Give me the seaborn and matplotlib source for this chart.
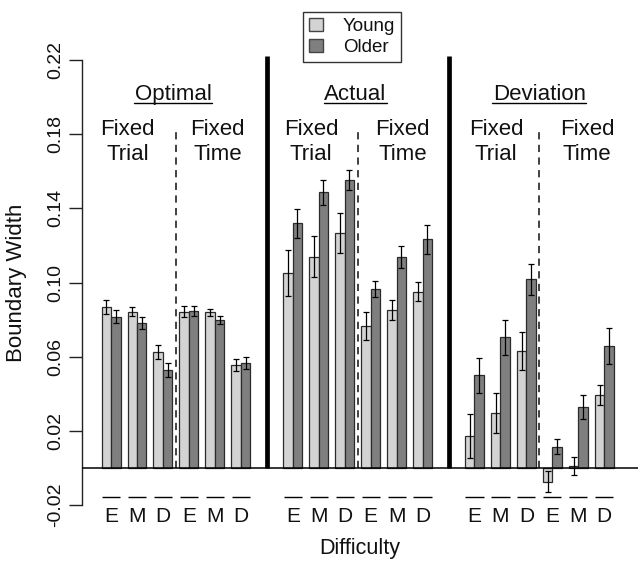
import numpy as np
import pandas as pd
import seaborn as sns
import matplotlib
matplotlib.use('Agg')
import matplotlib.pyplot as plt
from matplotlib.patches import Patch

# data: each list is Fixed Trial E, M, D then Fixed Time E, M, D
panels = ['Optimal', 'Actual', 'Deviation']
difficulty = ['E', 'M', 'D']
groups = ['Young', 'Older']

optimal_young = [0.0870, 0.0843, 0.0627, 0.0843, 0.0839, 0.0555]
optimal_older = [0.0816, 0.0780, 0.0528, 0.0848, 0.0800, 0.0568]
optimal_young_se = [0.0038, 0.0025, 0.0038, 0.0030, 0.0020, 0.0030]
optimal_older_se = [0.0035, 0.0032, 0.0038, 0.0028, 0.0022, 0.0032]

actual_young = [0.1050, 0.1140, 0.1265, 0.0766, 0.0852, 0.0950]
actual_older = [0.1320, 0.1486, 0.1550, 0.0967, 0.1136, 0.1233]
actual_young_se = [0.0124, 0.0110, 0.0108, 0.0075, 0.0054, 0.0052]
actual_older_se = [0.0078, 0.0067, 0.0054, 0.0043, 0.0060, 0.0077]

deviation_young = [0.0172, 0.0295, 0.0632, -0.0074, 0.0010, 0.0394]
deviation_older = [0.0500, 0.0704, 0.1017, 0.0115, 0.0330, 0.0658]
deviation_young_se = [0.0119, 0.0108, 0.0102, 0.0057, 0.0050, 0.0054]
deviation_older_se = [0.0093, 0.0093, 0.0083, 0.0040, 0.0066, 0.0095]

young = [optimal_young, actual_young, deviation_young]
older = [optimal_older, actual_older, deviation_older]
young_se = [optimal_young_se, actual_young_se, deviation_young_se]
older_se = [optimal_older_se, actual_older_se, deviation_older_se]

# one empty slot between panels
panel_start = [0, 7, 14]

rows = []
for i, p in enumerate(panels):
    for j in range(6):
        pos = panel_start[i] + j
        rows.append({'pos': pos, 'group': 'Young', 'value': young[i][j], 'se': young_se[i][j]})
        rows.append({'pos': pos, 'group': 'Older', 'value': older[i][j], 'se': older_se[i][j]})
df = pd.DataFrame(rows)

sns.set_style('white')
plt.rcParams['font.family'] = ['Liberation Sans', 'DejaVu Sans']
plt.rcParams['text.color'] = '#111111'

colors = {'Young': '#d3d3d3', 'Older': '#7f7f7f'}
bar_w = 0.73
fs = 16

fig = plt.figure(figsize=(6.38, 5.61), dpi=100)
ax = fig.add_axes([0.1285, 0.0996, 0.8715, 0.8102])

sns.barplot(data=df, x='pos', y='value', hue='group', hue_order=groups,
            palette=colors, native_scale=True, width=bar_w, errorbar=None,
            edgecolor='#2b2b2b', linewidth=0.9, legend=False, ax=ax)

# error bars
for k, g in enumerate(groups):
    sub = df[df['group'] == g]
    off = (-1 if k == 0 else 1) * bar_w / 4
    ax.errorbar(sub['pos'] + off, sub['value'], yerr=sub['se'], fmt='none',
                ecolor='black', elinewidth=0.9, capsize=2, capthick=0.9, zorder=4)

ax.axhline(0, color='black', lw=1.1, zorder=5)

# panel separators and condition separators
for i in range(3):
    ax.vlines(panel_start[i] + 2.5, 0, 0.184, colors='#333333', lw=1.3,
              linestyles=(0, (4, 3)), zorder=3)
for s in [6, 13]:
    ax.vlines(s, 0, 0.222, colors='black', lw=3.4, zorder=3)

# titles
title_off = [2.4, 2.4, 2.5]
trial_off = [0.63, 0.71, 0.83]
time_off = [4.1, 4.23, 4.34]
renderer = fig.canvas.get_renderer()
for i, p in enumerate(panels):
    t = ax.text(panel_start[i] + title_off[i], 0.1984, p, ha='center', va='baseline', fontsize=fs)
    bb = t.get_window_extent(renderer)
    x0 = ax.transData.inverted().transform((bb.x0, 0))[0]
    x1 = ax.transData.inverted().transform((bb.x1, 0))[0]
    ax.plot([x0, x1], [0.1966, 0.1966], color='black', lw=1.0)
    ax.text(panel_start[i] + trial_off[i], 0.1795, 'Fixed', ha='center', va='baseline', fontsize=fs)
    ax.text(panel_start[i] + trial_off[i], 0.1660, 'Trial', ha='center', va='baseline', fontsize=fs)
    ax.text(panel_start[i] + time_off[i], 0.1795, 'Fixed', ha='center', va='baseline', fontsize=fs)
    ax.text(panel_start[i] + time_off[i], 0.1660, 'Time', ha='center', va='baseline', fontsize=fs)

# x ticks with overlines
positions = np.array(sorted(df['pos'].unique()))
ax.set_xticks(positions)
ax.set_xticklabels(difficulty * 6)
ax.tick_params(axis='x', bottom=False, length=0, pad=1, labelsize=15, labelcolor='#111111')
ax.hlines(np.full(len(positions), -0.0156), positions - 0.35, positions + 0.35,
          colors='black', lw=1.0)

ax.set_xlim(-1.12, 20.3)
ax.set_ylim(-0.02, 0.225)
yt = [-0.02, 0.02, 0.06, 0.10, 0.14, 0.18, 0.22]
ax.set_yticks(yt)
ax.set_yticklabels(['-0.02', '0.02', '0.06', '0.10', '0.14', '0.18', '0.22'],
                   rotation=90, va='center')
ax.tick_params(axis='y', left=True, length=9.4, width=1, pad=3.6, labelsize=14,
               color='#222222', labelcolor='#111111')

sns.despine(ax=ax, bottom=True)
ax.spines['left'].set_bounds(-0.02, 0.22)
ax.spines['left'].set_linewidth(1)
ax.spines['left'].set_color('#222222')

ax.set_xlabel('Difficulty', fontsize=15.5, labelpad=9, color='#111111')
ax.set_ylabel('Boundary Width', fontsize=16, color='#111111')
ax.yaxis.set_label_coords(-0.098, 0.489)

handles = [Patch(facecolor=colors[g], edgecolor='#444444', lw=1) for g in groups]
leg = fig.legend(handles, groups, loc='upper left',
                 bbox_to_anchor=(302.7 / 638, 1 - 11.7 / 561), borderaxespad=0,
                 fontsize=13.5, frameon=True, fancybox=False, handlelength=0.75,
                 handleheight=0.65, handletextpad=1.05, labelspacing=0.22, borderpad=0.33)
leg.get_frame().set_edgecolor('black')
leg.get_frame().set_linewidth(1)

plt.savefig('out.png', dpi=100)
